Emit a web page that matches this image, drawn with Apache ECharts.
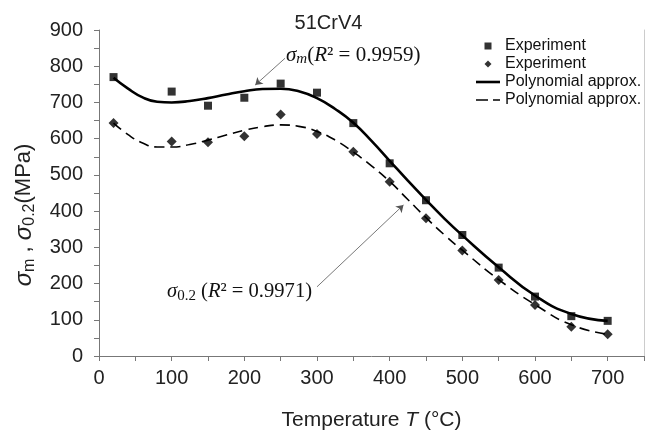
<!DOCTYPE html>
<html>
<head>
<meta charset="utf-8">
<script src="https://cdn.jsdelivr.net/npm/echarts@6/dist/echarts.min.js"></script>
<style>
html,body{margin:0;padding:0;background:#fff;}
#c{width:657px;height:436px;}
</style>
</head>
<body>
<div id="c"></div>
<script>
// Experimental points
const temps = [20, 100, 150, 200, 250, 300, 350, 400, 450, 500, 550, 600, 650, 700];
const sigmaM = [770, 730, 691, 713, 752, 727, 643, 532, 430, 334, 244, 164, 110, 97];
const sigma02 = [643, 592, 590, 607, 667, 613, 564, 481, 380, 291, 210, 141, 81, 60];

// Polynomial approximation curves
const fitT = [20, 40, 60, 80, 100, 125, 150, 175, 200, 225, 250, 275, 300, 325, 350, 375, 400, 425, 450, 475, 500, 550, 600, 650, 700];
const fitM = [768, 738, 714, 702, 700, 704, 712, 722, 731, 737, 738, 731, 712, 682, 644, 594, 539, 484, 431, 380, 333, 245, 167, 116, 97];
const fit02 = [643, 611, 588, 577, 577, 584, 596, 610, 623, 633, 638, 634, 620, 596, 563, 525, 482, 432, 382, 335, 292, 211, 142, 86, 60];

// Axis ticks
const xTicks = [0, 100, 200, 300, 400, 500, 600, 700];
const yTicks = [0, 100, 200, 300, 400, 500, 600, 700, 800, 900];

// Annotation arrows (data coordinates)
const arrowM = [[256, 822], [215, 748]];
const arrow02 = [[300, 191], [419, 417]];

const legendNames = {
  expM: 'Experiment',
  exp02: 'Experiment',
  fitM: 'Polynomial approx.',
  fit02: 'Polynomial approx.'
};

const zip = (a, b) => a.map((v, i) => [v, b[i]]);

const chart = echarts.init(document.getElementById('c'), null, {renderer: 'canvas'});
const sans = 'Liberation Sans, Arial, sans-serif';
const serif = 'Liberation Serif, Times New Roman, serif';

chart.setOption({
  animation: false,
  backgroundColor: '#fff',
  title: {
    text: '51CrV4',
    left: 'center',
    top: 8,
    textStyle: {fontFamily: sans, fontSize: 20, fontWeight: 'normal', color: '#222'}
  },
  legend: {
    orient: 'vertical',
    left: 476,
    top: 38,
    padding: 0,
    itemWidth: 24,
    itemHeight: 7,
    itemGap: 2,
    symbolKeepAspect: true,
    textStyle: {fontFamily: sans, fontSize: 16, color: '#111', lineHeight: 16},
    formatter: n => legendNames[n],
    data: [
      {name: 'expM', icon: 'path://M0,0H10V10H0Z', itemStyle: {color: '#000'}},
      {name: 'exp02', icon: 'path://M5,0L10,5L5,10L0,5Z', itemStyle: {color: '#000'}},
      {name: 'fitM', icon: 'path://M0,0H24V2.6H0Z', itemStyle: {color: '#000'}},
      {name: 'fit02', icon: 'path://M0,0H12V1.6H0Z M17,0H24V1.6H17Z', itemStyle: {color: '#000'}}
    ]
  },
  grid: {left: 99, right: 13, top: 30, bottom: 80, containLabel: false},
  xAxis: {
    type: 'value',
    min: 0, max: 750, interval: 50,
    name: 'Temperature {i|T} (°C)',
    nameLocation: 'middle',
    nameGap: 54,
    nameTextStyle: {
      fontFamily: sans, fontSize: 21, color: '#222',
      rich: {i: {fontFamily: sans, fontSize: 21, fontStyle: 'italic', color: '#222'}}
    },
    axisLine: {lineStyle: {color: '#777', width: 1}},
    axisTick: {length: 5, lineStyle: {color: '#777'}},
    axisLabel: {
      fontFamily: sans, fontSize: 20, color: '#222', margin: 12,
      formatter: v => xTicks.includes(v) ? String(v) : ''
    },
    splitLine: {show: false}
  },
  yAxis: [{
    type: 'value',
    min: 0, max: 900, interval: 50,
    axisLine: {show: true, lineStyle: {color: '#777', width: 1}},
    axisTick: {show: true, length: 5, lineStyle: {color: '#777'}},
    axisLabel: {
      fontFamily: sans, fontSize: 20, color: '#222', margin: 16,
      formatter: v => yTicks.includes(v) ? String(v) : ''
    },
    splitLine: {show: false}
  }, {
    type: 'value',
    position: 'right',
    min: 0, max: 900,
    axisLine: {show: true, lineStyle: {color: '#ccc', width: 1}},
    axisTick: {show: false},
    axisLabel: {show: false},
    splitLine: {show: false}
  }],
  graphic: [{
    type: 'text',
    x: 24, y: 215,
    rotation: Math.PI / 2,
    style: {
      text: '{g|σ}{sub|m}{t| , }{g|σ}{sub|0.2}{t|(MPa)}',
      align: 'center',
      verticalAlign: 'middle',
      rich: {
        g: {fontFamily: sans, fontSize: 24, fontStyle: 'italic', fill: '#222', lineHeight: 28, verticalAlign: 'middle'},
        t: {fontFamily: sans, fontSize: 22, fill: '#222', lineHeight: 28, verticalAlign: 'middle'},
        sub: {fontFamily: sans, fontSize: 16, fill: '#222', lineHeight: 16, verticalAlign: 'bottom'}
      }
    }
  }, {
    type: 'text',
    x: 286, y: 55,
    style: {
      text: '{g|σ}{sub|m}{t|(}{g|R}{t|² = 0.9959)}',
      align: 'left',
      verticalAlign: 'middle',
      rich: {
        g: {fontFamily: serif, fontSize: 21, fontStyle: 'italic', fill: '#111', lineHeight: 24, verticalAlign: 'middle'},
        t: {fontFamily: serif, fontSize: 21, fill: '#111', lineHeight: 24, verticalAlign: 'middle'},
        sub: {fontFamily: serif, fontSize: 15, fontStyle: 'italic', fill: '#111', lineHeight: 15, verticalAlign: 'bottom'}
      }
    }
  }, {
    type: 'text',
    x: 167, y: 292,
    style: {
      text: '{g|σ}{sub|0.2}{t| (}{g|R}{t|² = 0.9971)}',
      align: 'left',
      verticalAlign: 'middle',
      rich: {
        g: {fontFamily: serif, fontSize: 20.6, fontStyle: 'italic', fill: '#111', lineHeight: 24, verticalAlign: 'middle'},
        t: {fontFamily: serif, fontSize: 20.6, fill: '#111', lineHeight: 24, verticalAlign: 'middle'},
        sub: {fontFamily: serif, fontSize: 15, fill: '#111', lineHeight: 15, verticalAlign: 'bottom'}
      }
    }
  }],
  series: [{
    name: 'fitM',
    type: 'line',
    data: zip(fitT, fitM),
    smooth: true,
    symbol: 'none',
    lineStyle: {color: '#000', width: 2.6, type: 'solid'},
    itemStyle: {color: '#000'},
    z: 2,
    markLine: {
      silent: true,
      symbol: ['none', 'arrow'],
      symbolSize: 7,
      label: {show: false},
      lineStyle: {color: '#555', width: 0.8, type: 'solid'},
      data: [
        [{coord: arrowM[0]}, {coord: arrowM[1]}],
        [{coord: arrow02[0]}, {coord: arrow02[1]}]
      ]
    }
  }, {
    name: 'fit02',
    type: 'line',
    data: zip(fitT, fit02),
    smooth: true,
    symbol: 'none',
    lineStyle: {color: '#000', width: 1.6, type: [10, 6]},
    itemStyle: {color: '#000'},
    z: 2
  }, {
    name: 'expM',
    type: 'scatter',
    data: zip(temps, sigmaM),
    symbol: 'rect',
    symbolSize: 8,
    itemStyle: {color: '#000'},
    z: 3
  }, {
    name: 'exp02',
    type: 'scatter',
    data: zip(temps, sigma02),
    symbol: 'diamond',
    symbolSize: 10,
    itemStyle: {color: '#000'},
    z: 3
  }]
});
</script>
</body>
</html>
